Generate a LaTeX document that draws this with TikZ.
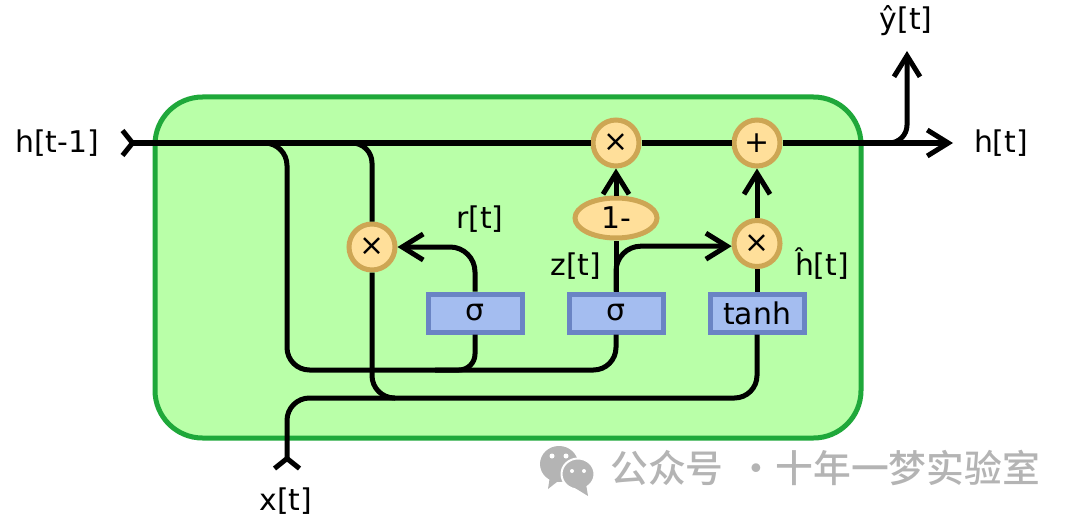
\documentclass[tikz,border=0pt]{standalone}
\usepackage{fontspec}
\setmainfont{DejaVu Sans}
\newfontfamily\cjkfont{Noto Sans CJK SC}[BoldFont={* Medium}]
\usetikzlibrary{arrows.meta, positioning, shapes.geometric}
\definecolor{cellfill}{HTML}{B9FFA8}
\definecolor{celledge}{HTML}{1FA83A}
\definecolor{opfill}{HTML}{FFDF9A}
\definecolor{opedge}{HTML}{CDA654}
\definecolor{boxfill}{HTML}{A4BDF0}
\definecolor{boxedge}{HTML}{6A84C4}
\definecolor{markgray}{HTML}{B4B4B4}
\tikzset{%
	every node/.style={
		font=\fontsize{17}{20}\selectfont
	},
	wire/.style={
		draw=black,
		line width=0.1cm,
		line join=round
	},
	opcircle/.style={
		circle,
		draw=opedge,
		fill=opfill,
		line width=0.1cm,
		inner sep=0pt,
		minimum size=0.92cm
	},
	opellipse/.style={
		ellipse,
		draw=opedge,
		fill=opfill,
		line width=0.1cm,
		inner sep=0pt,
		minimum width=1.64cm,
		minimum height=0.8cm
	},
	layerbox/.style={
		rectangle,
		draw=boxedge,
		fill=boxfill,
		line width=0.1cm,
		inner sep=0pt,
		minimum width=1.88cm,
		minimum height=0.76cm
	},
	tipbarb/.tip={Straight Barb[length=0.42cm,width=0.52cm,line width=0.1cm]},
	tailbarb/.tip={Straight Barb[reversed,length=0.2cm,width=0.5cm,line width=0.1cm]},
}

\begin{document}
\begin{tikzpicture}
	\useasboundingbox (0,0) rectangle (21.6,10.5);

	% Cell background
	\draw[draw=celledge, fill=cellfill, line width=0.1cm, rounded corners=0.95cm] (3.1,1.74) rectangle (17.22,8.56);

	% Operators and layers
	\node[opcircle] (mulR) at (7.44,5.56) {×};
	\node[opcircle] (mulKeep) at (12.32,7.64) {×};
	\node[opcircle] (addOut) at (15.14,7.64) {+};
	\node[opcircle] (mulNew) at (15.14,5.63) {×};
	\node[opellipse] (oneMinus) at (12.32,6.14) {1-};
	\node[layerbox] (sigmaR) at (9.5,4.24) {σ};
	\node[layerbox] (sigmaZ) at (12.32,4.24) {σ};
	\node[layerbox] (tanhBox) at (15.14,4.24) {tanh};

	% Free ends and corners of the wires
	\coordinate (hIn) at (2.4,7.64);
	\coordinate (hOut) at (19.06,7.64);
	\coordinate (yOut) at (18.14,9.48);
	\coordinate (xIn) at (5.74,1.08);
	\coordinate (forkLow) at (5,7.64);
	\coordinate (forkHigh) at (6.7,7.64);
	\coordinate (forkOut) at (17.5,7.64);
	\coordinate (cornerLow) at (5.74,3.1);
	\coordinate (joinLow) at (8.7,3.1);
	\coordinate (cornerHigh) at (10,2.54);
	\coordinate (joinHigh) at (7.9,2.54);

	% Main line
	\draw[wire, tailbarb-] (hIn) -- (mulKeep);
	\draw[wire] (mulKeep) -- (addOut);
	\draw[wire, -tipbarb] (addOut) -- (hOut);
	\draw[wire, -tipbarb, rounded corners=0.36cm] (forkOut) -| (yOut);

	% Branches off the main line
	\draw[wire, rounded corners=0.45cm] (forkLow) -| (cornerLow) -| (sigmaZ.south);
	\draw[wire, rounded corners=0.32cm] (sigmaR.south) |- (joinLow);
	\draw[wire, rounded corners=0.4cm] (forkHigh) -| (mulR.north);
	\draw[wire, rounded corners=0.45cm] (mulR.south) |- (joinHigh);
	\draw[wire, tailbarb-, rounded corners=0.45cm] (xIn) |- (cornerHigh) -| (tanhBox.south);

	% Gates
	\draw[wire, -tipbarb, rounded corners=0.5cm] (sigmaR.north) |- (mulR.east);
	\draw[wire] (sigmaZ.north) -- (oneMinus.south);
	\draw[wire, -tipbarb] (oneMinus.north) -- (mulKeep.south);
	\draw[wire, -tipbarb, rounded corners=0.5cm] (sigmaZ.north) |- (mulNew.186);
	\draw[wire] (tanhBox.north) -- (mulNew.south);
	\draw[wire, -tipbarb] (mulNew.north) -- (addOut.south);

	% Labels
	\node (hPrev) at (1.14,7.64) {h[t-1]};
	\node (hNext) at (20.02,7.64) {h[t]};
	\node (yHat) at (18.12,10.08) {ŷ[t]};
	\node (rLabel) at (9.6,6.12) {r[t]};
	\node (zLabel) at (11.52,5.18) {z[t]};
	\node (hHat) at (16.44,5.22) {ĥ[t]};
	\node (xLabel) at (5.72,0.48) {x[t]};

	% Watermark
	\fill[markgray] (11.0,0.98) -- (10.96,0.72) -- (11.24,0.94) -- cycle;
	\fill[markgray] (11.18,1.22) ellipse (0.38cm and 0.36cm);
	\fill[markgray, draw=white, line width=0.04cm] (11.56,1.02) ellipse (0.33cm and 0.31cm);
	\fill[markgray] (11.72,0.82) -- (11.76,0.58) -- (11.5,0.74) -- cycle;
	\fill[white] (11.04,1.38) circle (0.05cm) (11.32,1.38) circle (0.05cm) (11.44,1.08) circle (0.04cm) (11.68,1.08) circle (0.04cm);
	\node[text=markgray, font=\cjkfont\bfseries\fontsize{21.5}{26}\selectfont, anchor=west, inner sep=0pt] (markText) at (12.2,1.14) {公众号\hspace{0.28cm}·十年一梦实验室};
\end{tikzpicture}
\end{document}
